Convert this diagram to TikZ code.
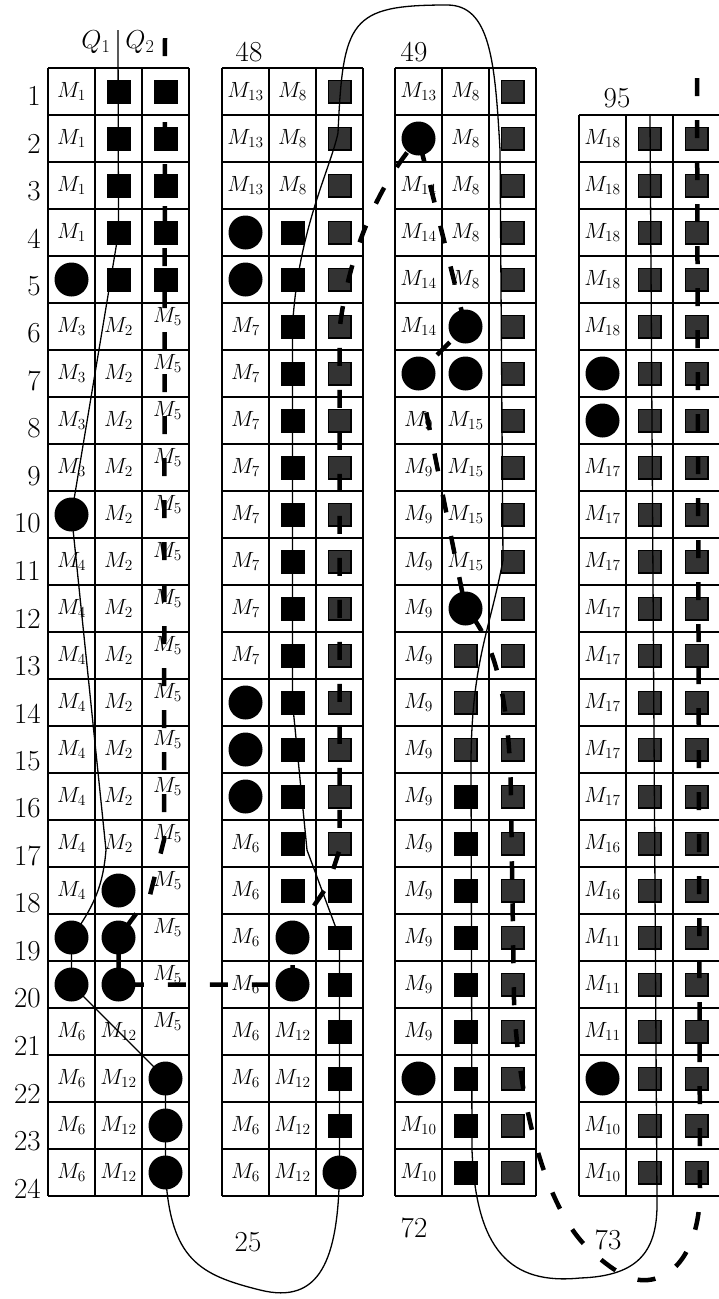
\RequirePackage{fix-cm}
\documentclass[tikz,border=0pt]{standalone}
\usepackage{tikz}

% cell codes: C circle, S black square, G grey square, number = M label
\newcommand*\mkC{C}
\newcommand*\mkS{S}
\newcommand*\mkG{G}
\newcommand\putcell[5]{%
  \edef\cellcode{#1}%
  \ifx\cellcode\mkC \node[dot] (#2) at (#3,{44.5+47*#4}) {};%
  \else\ifx\cellcode\mkS \node[blk] (#2) at (#3,{44.5+47*#4}) {};%
  \else\ifx\cellcode\mkG \node[gry] (#2) at (#3,{44.5+47*#4}) {};%
  \else \node[lab,#5] (#2) at (#3,{44.5+47*#4}) {$M_{#1}$};%
  \fi\fi\fi}
% table, column, x, first row, label options, codes
\newcommand\fillcol[6]{%
  \foreach \w [count=\cellrow from #4] in {#6} {\putcell{\w}{#1-\cellrow-#2}{#3}{\cellrow}{#5}}}

\begin{document}
\begin{tikzpicture}[x=1pt,y=-1pt,
  gridln/.style={line width=1.6pt},
  dot/.style={circle,fill=black,inner sep=0pt,minimum size=34pt},
  blk/.style={rectangle,fill=black,inner sep=0pt,minimum size=24pt},
  gry/.style={rectangle,draw=black,line width=1.5pt,fill=black!80,inner sep=0pt,minimum size=22.5pt},
  lab/.style={inner sep=0pt,font=\fontsize{22}{26}\selectfont},
  num/.style={inner sep=0pt,font=\fontsize{29}{34}\selectfont},
  qlab/.style={inner sep=0pt,font=\fontsize{26}{30}\selectfont},
  qone/.style={line width=1.3pt},
  qtwo/.style={line width=4.5pt,dash pattern=on 18pt off 24pt}]
\useasboundingbox (0,0) rectangle (718,1299);
\fill[white] (0,0) rectangle (718,1299);

% the four tables
\foreach \L/\f in {48/0,222/0,395/0,579/1}{
  \foreach \k in {0,...,3} \draw[gridln] (\L+47*\k,68+47*\f) -- (\L+47*\k,1196);
  \foreach \r in {\f,...,24} \draw[gridln] (\L,68+47*\r) -- (\L+141,68+47*\r);
}
\foreach \r in {1,...,24} \node[num,anchor=east] (row\r) at (41,{48.5+47.5*\r}) {\r};

\fillcol{A}{1}{71.5}{1}{}{1,1,1,1,C,3,3,3,3,C,4,4,4,4,4,4,4,4,C,C,6,6,6,6}
\fillcol{A}{2}{118.5}{1}{}{S,S,S,S,S,2,2,2,2,2,2,2,2,2,2,2,2,C,C,C,12,12,12,12}
\fillcol{A}{3}{165.5}{1}{yshift=10pt,xshift=2pt}{S,S,S,S,S,5,5,5,5,5,5,5,5,5,5,5,5,5,5,5,5,C,C,C}

\fillcol{B}{1}{245.5}{1}{}{13,13,13,C,C,7,7,7,7,7,7,7,7,C,C,C,6,6,6,6,6,6,6,6}
\fillcol{B}{2}{292.5}{1}{}{8,8,8,S,S,S,S,S,S,S,S,S,S,S,S,S,S,S,C,C,12,12,12,12}
\fillcol{B}{3}{339.5}{1}{}{G,G,G,G,G,G,G,G,G,G,G,G,G,G,G,G,G,S,S,S,S,S,S,C}

\fillcol{C}{1}{418.5}{1}{}{13,C,14,14,14,14,C,9,9,9,9,9,9,9,9,9,9,9,9,9,9,C,10,10}
\fillcol{C}{2}{465.5}{1}{}{8,8,8,8,8,C,C,15,15,15,15,C,G,G,G,S,S,S,S,S,S,S,S,S}
\fillcol{C}{3}{512.5}{1}{}{G,G,G,G,G,G,G,G,G,G,G,G,G,G,G,G,G,G,G,G,G,G,G,G}

\fillcol{D}{1}{602.5}{2}{}{18,18,18,18,18,C,C,17,17,17,17,17,17,17,17,16,16,11,11,11,C,10,10}
\fillcol{D}{2}{649.5}{2}{}{G,G,G,G,G,G,G,G,G,G,G,G,G,G,G,G,G,G,G,G,G,G,G}
\fillcol{D}{3}{696.5}{2}{}{G,G,G,G,G,G,G,G,G,G,G,G,G,G,G,G,G,G,G,G,G,G,G}

\node[qlab] (lq1) at (96,42) {$Q_1$};
\node[qlab] (lq2) at (140,42) {$Q_2$};
\node[num] (t48) at (249,52) {48};
\node[num] (t49) at (414,52) {49};
\node[num] (t95) at (617,98) {95};
\node[num] (t25) at (248,1242) {25};
\node[num] (t72) at (414,1228) {72};
\node[num] (t73) at (608,1240) {73};

% Q1
\coordinate (q1s) at (118,30);
\coordinate (q1e) at (650,115);
\draw[qone] (q1s) -- (A-4-2.center) -- (A-10-1.center) -- (106,850)
  .. controls (103,885) and (95,905) .. (A-19-1.center) -- (A-20-1.center)
  -- (A-22-3.center) -- (A-24-3.center)
  .. controls (170,1260) and (200,1275) .. (260,1290)
  .. controls (320,1305) and (338,1260) .. (B-24-3.center)
  -- (B-19-3.center) -- (307,850) -- (B-14-2.center) -- (B-6-2.center)
  .. controls (298,230) and (330,170) .. (338,133)
  .. controls (343,20) and (350,5) .. (447,5)
  .. controls (490,5) and (495,60) .. (500,150) -- (503,560)
  .. controls (490,630) and (472,660) .. (471,760) -- (472,1150)
  .. controls (476,1250) and (510,1285) .. (580,1278)
  .. controls (640,1276) and (658,1250) .. (657,1200) -- (q1e);

% Q2
\coordinate (q2s) at (165,38);
\coordinate (q2e) at (697,78);
\draw[qtwo] (q2s) -- (164,840) -- (150,895) -- (A-19-2.center) -- (A-20-2.center)
  -- (B-20-2.center) -- (B-19-2.center) -- (328,885) -- (339.5,850) -- (339.5,330)
  .. controls (345,280) and (365,200) .. (C-2-1.center) -- (C-6-2.center)
  -- (C-7-1.center) -- (C-12-2.center)
  .. controls (495,640) and (510,700) .. (511,800) -- (514,1000)
  .. controls (518,1100) and (545,1210) .. (590,1250)
  .. controls (612,1270) and (630,1282) .. (648,1280)
  .. controls (680,1277) and (700,1240) .. (700,1190) -- (q2e);
\end{tikzpicture}
\end{document}
